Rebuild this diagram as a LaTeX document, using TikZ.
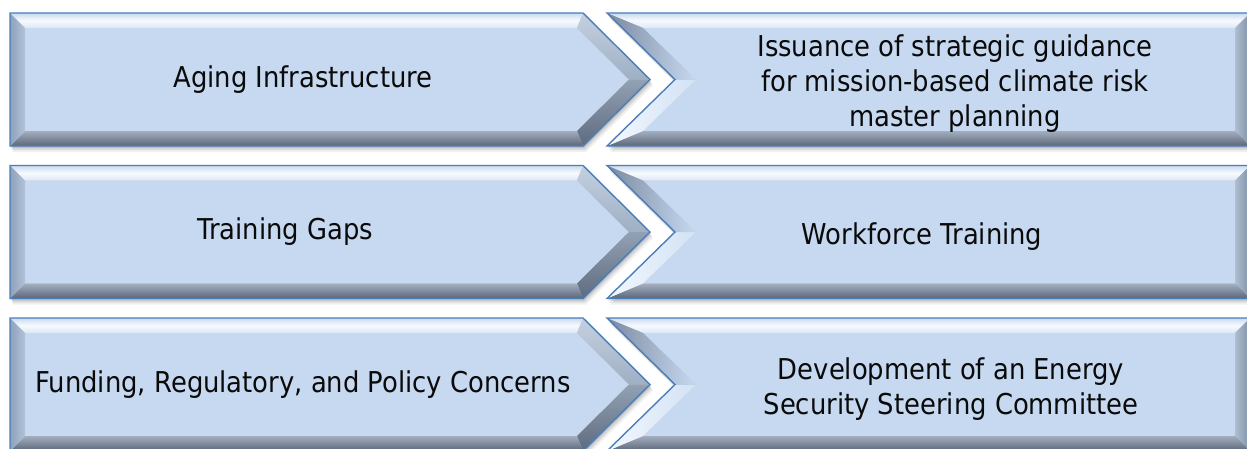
\documentclass[tikz,border=0pt]{standalone}
\usepackage{fontspec}
\setmainfont[FakeStretch=0.9]{DejaVu Sans}
\definecolor{faceblue}{HTML}{C6D9F1}
\definecolor{edgeblue}{HTML}{4A7EBB}
\definecolor{txt}{HTML}{0A0A0A}
\definecolor{topA}{HTML}{C9DBF1}
\definecolor{topB}{HTML}{DCE8F6}
\definecolor{topC}{HTML}{F7FAFE}
\definecolor{sideL1}{HTML}{8EA1BB}
\definecolor{sideL2}{HTML}{B2C2D7}
\definecolor{base1}{HTML}{A3AFBF}
\definecolor{base2}{HTML}{5B6678}
\definecolor{slantU1}{HTML}{C3D0E0}
\definecolor{slantU2}{HTML}{9FAFC4}
\definecolor{slantD1}{HTML}{5E6B7F}
\definecolor{slantD2}{HTML}{93A1B4}
\definecolor{notchU1}{HTML}{7C8AA0}
\definecolor{notchD1}{HTML}{F3F8FE}
\definecolor{notchD2}{HTML}{D2E2F5}
\definecolor{sideR1}{HTML}{AFBED1}
\definecolor{sideR2}{HTML}{7F8FA5}
\tikzset{
  lbl/.style={inner sep=0pt, text=txt, align=center,
    font=\fontsize{28.7}{35}\selectfont},
  outline/.style={draw=edgeblue, line width=1.4pt, line join=miter},
  toplit/.style={top color=topA, bottom color=topB, middle color=topC},
}

% one row: left arrow box and right notched box
% #1 row top (pixels from top), #2/#3 left label name/x, #4 left text,
% #5/#6 right label name/x, #7 right text
\newcommand\bevelrow[7]{%
\begin{scope}[yshift=-#1pt]
  % soft drop shadow
  \foreach \o/\a in {6/0.06,4/0.09,2/0.12}{
    \fill[black,opacity=\a,shift={(0.5*\o,\o)}]
      (10,0) -- (583,0) -- (650,66.5) -- (583,133) -- (10,133) -- cycle;
    \fill[black,opacity=\a,shift={(0.5*\o,\o)}]
      (607,0) -- (1250,0) -- (1250,133) -- (607,133) -- (675,66.5) -- cycle;
  }
  % left arrow box
  \fill[faceblue] (25,15) -- (577,15) -- (629,66.5) -- (577,118) -- (25,118) -- cycle;
  \shade[toplit] (10,0) -- (583,0) -- (577,15) -- (25,15) -- cycle;
  \shade[top color=slantU1, bottom color=slantU2] (583,0) -- (650,66.5) -- (629,66.5) -- (577,15) -- cycle;
  \shade[top color=slantD1, bottom color=slantD2, shading angle=180] (650,66.5) -- (583,133) -- (577,118) -- (629,66.5) -- cycle;
  \shade[top color=base1, bottom color=base2] (583,133) -- (10,133) -- (25,118) -- (577,118) -- cycle;
  \shade[left color=sideL1, right color=sideL2] (10,133) -- (10,0) -- (25,15) -- (25,118) -- cycle;
  \draw[outline] (10,0) -- (583,0) -- (650,66.5) -- (583,133) -- (10,133) -- cycle;
  % right notched box
  \fill[faceblue] (643,15) -- (1235,15) -- (1235,118) -- (643,118) -- (696,66.5) -- cycle;
  \shade[toplit] (607,0) -- (1250,0) -- (1235,15) -- (643,15) -- cycle;
  \shade[left color=sideR1, right color=sideR2] (1250,0) -- (1250,133) -- (1235,118) -- (1235,15) -- cycle;
  \shade[top color=base1, bottom color=base2] (1250,133) -- (607,133) -- (643,118) -- (1235,118) -- cycle;
  \shade[left color=notchD1, right color=notchD2] (607,133) -- (675,66.5) -- (696,66.5) -- (643,118) -- cycle;
  \shade[left color=notchU1, right color=faceblue] (675,66.5) -- (607,0) -- (643,15) -- (696,66.5) -- cycle;
  \draw[outline] (607,0) -- (1250,0) -- (1250,133) -- (607,133) -- (675,66.5) -- cycle;
  % labels
  \node[lbl] (#2) at (#3,66.5) {#4};
  \node[lbl] (#5) at (#6,71) {#7};
\end{scope}}

\begin{document}
\begin{tikzpicture}[x=1pt,y=-1pt]
  \useasboundingbox (0,0) rectangle (1247,448);
  \fill[white] (0,0) rectangle (1247,448);
  \bevelrow{13}{agingL}{303}{Aging Infrastructure}{guidanceR}{955}{Issuance of strategic guidance\\for mission-based climate risk\\master planning}
  \bevelrow{165.5}{trainingL}{285}{Training Gaps}{workforceR}{922}{Workforce Training}
  \bevelrow{318}{fundingL}{303}{Funding, Regulatory, and Policy Concerns}{steeringR}{951}{Development of an Energy\\Security Steering Committee}
\end{tikzpicture}
\end{document}
